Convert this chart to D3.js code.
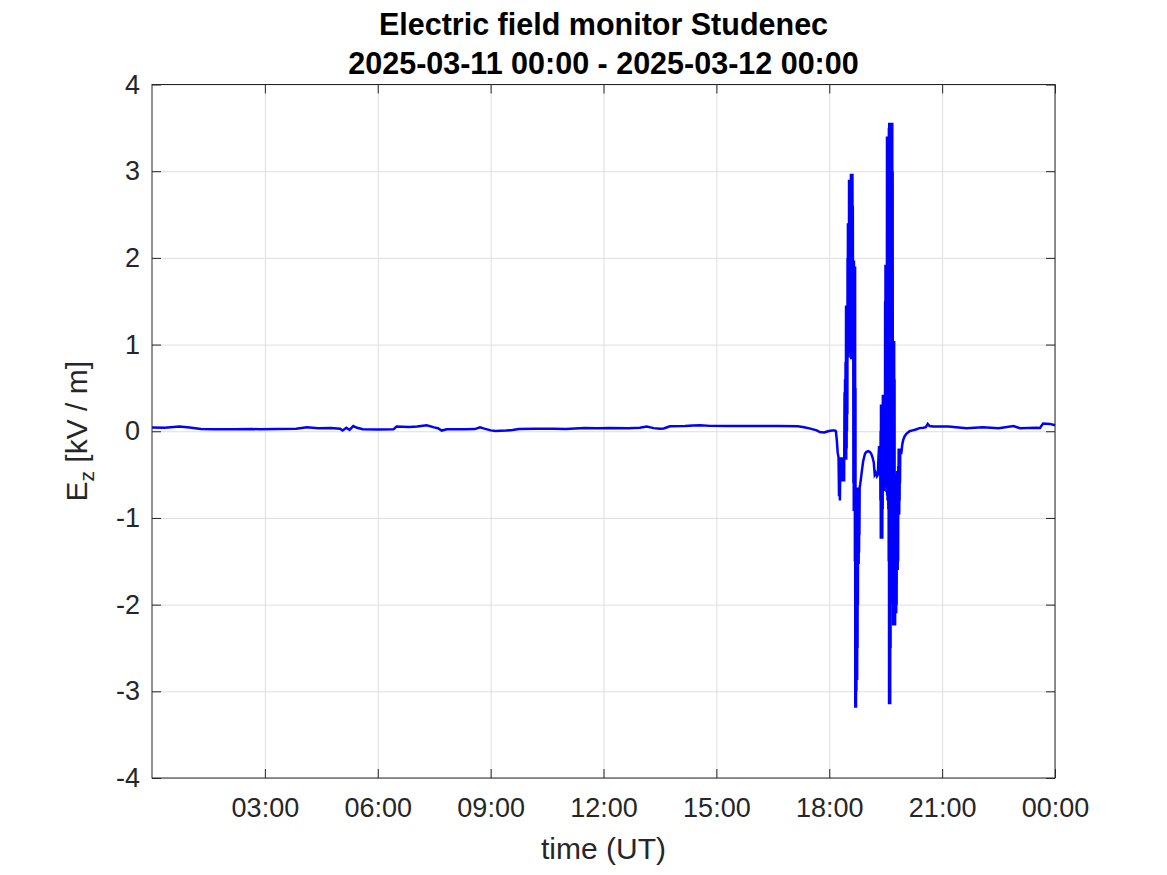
<!DOCTYPE html>
<html>
<head>
<meta charset="utf-8">
<script src="https://cdn.jsdelivr.net/npm/d3@7"></script>
<style>
  html, body { margin: 0; padding: 0; background: #ffffff; }
  svg { display: block; font-family: "Liberation Sans", Arial, Helvetica, sans-serif; }
</style>
</head>
<body>
<svg id="chart" width="1167" height="875"></svg>
<script>
// ---- data (minutes since 2025-03-11 00:00 UT, Ez in kV/m) ----
// quiet part before the storm
const quietMinutes = [
  0, 20, 44, 60, 78, 100, 130, 160, 172, 200, 230, 247, 265, 285, 300, 304, 310, 315, 321, 327,
  336, 360, 385, 390, 410, 423, 438, 450, 456, 462, 470, 500, 515, 523, 530, 540, 548, 555, 565, 575,
  585, 610, 640, 660, 690, 710, 730, 760, 778, 789, 800, 810, 816, 826, 850, 863, 874, 890, 920, 960,
  1000, 1030, 1040, 1050, 1060, 1065, 1072, 1078, 1084, 1089
];
const quietEz = [
  0.042, 0.040, 0.054, 0.042, 0.025, 0.023, 0.022, 0.025, 0.023, 0.027, 0.028, 0.046, 0.036, 0.038, 0.030, 0.008, 0.040, 0.015, 0.060, 0.040,
  0.023, 0.020, 0.022, 0.054, 0.050, 0.055, 0.070, 0.045, 0.035, 0.008, 0.023, 0.022, 0.025, 0.046, 0.030, 0.010, 0.002, 0.005, 0.008, 0.015,
  0.027, 0.028, 0.030, 0.027, 0.038, 0.036, 0.038, 0.036, 0.040, 0.054, 0.036, 0.030, 0.032, 0.058, 0.060, 0.065, 0.070, 0.062, 0.060, 0.060,
  0.060, 0.058, 0.045, 0.030, 0.010, -0.010, -0.015, 0.000, 0.008, 0.008
];
// first thunderstorm burst (~18:10 - 18:50)
const burst1Minutes = [
  1090.6, 1092, 1093.5, 1094.8, 1095.6, 1096.3, 1097, 1097.6, 1098.2, 1098.8,
  1099.5, 1100.2, 1100.9, 1101.6, 1102.3, 1103, 1103.7,
  1104.4, 1104.8, 1105.2, 1105.6, 1106.0, 1106.4, 1106.8, 1107.1, 1107.4, 1107.7,
  1108.0, 1108.3, 1108.6, 1108.9, 1109.2, 1109.5, 1109.8, 1110.1, 1110.4, 1110.7,
  1111.0, 1111.3, 1111.6, 1111.9, 1112.2, 1112.5, 1112.8, 1113.1, 1113.4, 1113.7,
  1114.0, 1114.3, 1114.6, 1114.9, 1115.2, 1115.5, 1115.8, 1116.1, 1116.4, 1116.7,
  1117.0, 1117.3, 1117.6, 1117.9, 1118.2, 1118.5, 1118.8, 1119.1, 1119.4, 1119.7,
  1120.0, 1120.3, 1120.6, 1120.9, 1121.2, 1121.5, 1121.8, 1122.1, 1122.4, 1122.7,
  1123.0, 1123.3, 1123.6, 1123.9, 1124.2, 1124.5, 1124.8, 1125.1, 1125.4, 1125.7,
  1126.0, 1126.3, 1126.6, 1126.9, 1127.2, 1127.5, 1127.8, 1128.1, 1128.5, 1129.2
];
const burst1Ez = [
  0.000, -0.10, -0.25, -0.30, -0.75, -0.35, -0.80, -0.40, -0.58, -0.30,
  -0.55, -0.32, -0.58, -0.30, -0.56, -0.32, -0.58,
  0.45, -0.20, 0.60, -0.25, 0.80, -0.30, 1.45, -0.33, 1.30, -0.20,
  1.45, 0.00, 1.40, 0.20, 2.00, 0.85, 2.40, 0.90, 2.35, 0.85,
  2.40, 1.00, 2.90, 1.04, 2.85, 1.10, 2.90, 1.04, 2.80, 1.20,
  2.90, 0.90, 2.97, 0.83, 2.95, 1.00, 2.97, 0.85, 2.90, 0.83,
  2.97, 1.20, 2.60, 0.90, 1.97, -0.60, 1.90, -0.92, 1.97, -0.50,
  1.60, -0.92, 1.20, -1.50, 1.90, -3.19, 0.50, -3.19, -0.90, -3.19,
  -1.00, -3.00, -0.65, -2.87, -0.70, -2.87, -0.65, -2.50, -0.70, -2.00,
  -0.65, -1.53, -0.70, -1.53, -0.65, -1.40, -0.70, -1.20, -0.65, -0.62
];
// lull between the bursts
const lullMinutes = [1130.5, 1132, 1134, 1135.6, 1137, 1139, 1142, 1145, 1147, 1149, 1151, 1152.5, 1154, 1156, 1157.5, 1158.5, 1159.5, 1160.5];
const lullEz = [-0.55, -0.46, -0.35, -0.30, -0.26, -0.24, -0.23, -0.24, -0.26, -0.30, -0.36, -0.50, -0.48, -0.52, -0.50, -0.30, -0.17, -0.50];
// second thunderstorm burst (~19:20 - 19:55)
const burst2Minutes = [
  1161.3, 1161.6, 1161.9, 1162.2, 1162.5, 1162.8, 1163.1, 1163.4, 1163.7, 1164.0,
  1164.3, 1164.6, 1164.9, 1165.2, 1165.5, 1165.8, 1166.1, 1166.4, 1166.7, 1167.0,
  1167.3, 1167.6, 1167.9, 1168.2, 1168.5, 1168.8, 1169.1, 1169.4, 1169.7, 1170.0,
  1170.3, 1170.6, 1170.9, 1171.2, 1171.5, 1171.8, 1172.1, 1172.4, 1172.7, 1173.0,
  1173.3, 1173.6, 1173.9, 1174.2, 1174.5, 1174.8, 1175.1, 1175.4, 1175.7, 1176.0,
  1176.3, 1176.6, 1176.9, 1177.2, 1177.5, 1177.8, 1178.1, 1178.4, 1178.7, 1179.0,
  1179.3, 1179.6, 1179.9, 1180.2, 1180.5, 1180.8, 1181.1, 1181.4, 1181.7, 1182.0,
  1182.3, 1182.6, 1182.9, 1183.2, 1183.5, 1183.8, 1184.1, 1184.4, 1184.7, 1185.0,
  1185.3, 1185.6, 1185.9, 1186.2, 1186.5, 1186.8, 1187.1, 1187.4, 1187.7, 1188.0,
  1188.3, 1188.6, 1188.9, 1189.2, 1189.5, 1189.8, 1190.1, 1190.4, 1190.7, 1191.0,
  1191.3, 1191.6, 1191.9, 1192.2, 1192.5, 1192.8, 1193.2, 1194
];
const burst2Ez = [
  -0.20, -0.80, 0.00, -1.24, 0.31, -1.00, 0.20, -1.24, 0.31, -1.10,
  0.25, -1.24, 0.30, -0.90, 0.42, -0.69, 0.35, -0.60, 0.42, -0.69,
  0.40, -0.65, 0.42, -0.60, 0.40, -0.65, 1.50, -0.65, 1.92, -0.60,
  1.92, -0.65, 1.80, -0.70, 1.92, -0.70, 3.40, -0.74, 3.40, -0.80,
  3.40, -0.74, 3.40, -0.90, 3.40, -1.50, 3.50, -3.15, 3.56, -3.15,
  3.56, -3.15, 3.56, -3.15, 3.56, -2.50, 3.56, -2.00, 3.56, -1.50,
  3.56, -1.20, 3.56, -1.46, 3.56, -1.46, 3.00, -1.46, 1.04, -2.24,
  1.04, -2.00, 1.00, -2.24, 1.04, -2.24, 0.60, -2.20, -0.50, -2.24,
  -0.96, -2.10, -1.00, -2.10, -1.00, -2.10, -1.05, -2.00, -1.10, -1.60,
  -0.46, -1.60, -0.50, -1.60, -0.46, -1.50, -0.40, -0.96, -0.20, -0.96,
  -0.20, -0.96, -0.20, -0.80, -0.20, -0.60, -0.25, -0.25
];
// recovery and evening
const afterMinutes = [1195, 1196.5, 1198, 1200, 1203, 1208, 1213, 1218, 1224, 1230, 1234, 1237, 1240, 1246, 1270, 1299, 1325, 1350, 1374, 1384, 1410, 1416, 1421, 1432, 1440];
const afterEz = [-0.25, -0.15, -0.10, -0.06, -0.03, 0.000, 0.010, 0.020, 0.036, 0.040, 0.046, 0.085, 0.060, 0.054, 0.054, 0.035, 0.046, 0.035, 0.060, 0.035, 0.040, 0.038, 0.090, 0.085, 0.070];

const xTickValues = [180, 360, 540, 720, 900, 1080, 1260, 1440];
const xTickLabels = ["03:00", "06:00", "09:00", "12:00", "15:00", "18:00", "21:00", "00:00"];
const yTickValues = [-4, -3, -2, -1, 0, 1, 2, 3, 4];
const titleLines = ["Electric field monitor Studenec", "2025-03-11 00:00 - 2025-03-12 00:00"];
const xLabel = "time (UT)";

(function () {
  // ---- layout ----
  const pL = 152, pR = 1055, pT = 84.5, pB = 778;
  const axisColor = "#262626";
  const gridColor = "#dedede";
  const tickFont = 27, labelFont = 30;

  const svg = d3.select("#chart");
  const x = d3.scaleLinear().domain([0, 1440]).range([pL, pR]);
  const y = d3.scaleLinear().domain([-4, 4]).range([pB, pT]);

  // grid
  const gx = svg.append("g").attr("transform", `translate(0,${pB})`)
    .call(d3.axisBottom(x).tickValues(xTickValues).tickSize(-(pB - pT)).tickFormat(""));
  const gy = svg.append("g").attr("transform", `translate(${pL},0)`)
    .call(d3.axisLeft(y).tickValues(yTickValues).tickSize(-(pR - pL)).tickFormat(""));
  [gx, gy].forEach(g => {
    g.select(".domain").remove();
    g.selectAll("line").attr("stroke", gridColor).attr("stroke-width", 1);
  });

  // data line
  const allM = [].concat(quietMinutes, burst1Minutes, lullMinutes, burst2Minutes, afterMinutes);
  const allE = [].concat(quietEz, burst1Ez, lullEz, burst2Ez, afterEz);
  const pts = allM.map((m, i) => [m, allE[i]]);
  svg.append("path")
    .datum(pts)
    .attr("fill", "none")
    .attr("stroke", "#0000ff")
    .attr("stroke-width", 2.5)
    .attr("stroke-linejoin", "miter")
    .attr("d", d3.line().x(d => x(d[0])).y(d => y(d[1])));

  // axes with inward ticks
  const fmtX = d => xTickLabels[xTickValues.indexOf(d)];
  const axB = svg.append("g").attr("transform", `translate(0,${pB})`)
    .call(d3.axisBottom(x).tickValues(xTickValues).tickSizeInner(-9).tickSizeOuter(0).tickPadding(20).tickFormat(fmtX));
  const axT = svg.append("g").attr("transform", `translate(0,${pT})`)
    .call(d3.axisTop(x).tickValues(xTickValues).tickSizeInner(-9).tickSizeOuter(0).tickFormat(""));
  const axL = svg.append("g").attr("transform", `translate(${pL},0)`)
    .call(d3.axisLeft(y).tickValues(yTickValues).tickSizeInner(-9).tickSizeOuter(0).tickPadding(12).tickFormat(d3.format("d")));
  const axR = svg.append("g").attr("transform", `translate(${pR},0)`)
    .call(d3.axisRight(y).tickValues(yTickValues).tickSizeInner(-9).tickSizeOuter(0).tickFormat(""));
  [axB, axT, axL, axR].forEach(g => {
    g.select(".domain").remove();
    g.selectAll("line").attr("stroke", axisColor).attr("stroke-width", 1);
    g.selectAll("text").attr("fill", axisColor).attr("font-size", tickFont)
      .attr("font-family", "'Liberation Sans', Arial, sans-serif");
  });
  axL.selectAll("text").text(d => d < 0 ? "-" + Math.abs(d) : String(d));

  // box
  svg.append("rect")
    .attr("x", pL).attr("y", pT)
    .attr("width", pR - pL).attr("height", pB - pT)
    .attr("fill", "none").attr("stroke", axisColor).attr("stroke-width", 1);

  // title
  svg.append("text").attr("x", (pL + pR) / 2).attr("y", 34.5)
    .attr("text-anchor", "middle").attr("font-size", 30.5).attr("font-weight", "bold")
    .attr("fill", "#000").text(titleLines[0]);
  svg.append("text").attr("x", (pL + pR) / 2).attr("y", 74)
    .attr("text-anchor", "middle").attr("font-size", 30.5).attr("font-weight", "bold")
    .attr("fill", "#000").text(titleLines[1]);

  // x label
  svg.append("text").attr("x", (pL + pR) / 2).attr("y", 859)
    .attr("text-anchor", "middle").attr("font-size", labelFont)
    .attr("fill", axisColor).text(xLabel);

  // y label: E_z [kV / m]
  const yl = svg.append("text")
    .attr("transform", `translate(87,${(pT + pB) / 2}) rotate(-90)`)
    .attr("text-anchor", "middle").attr("font-size", labelFont).attr("fill", axisColor);
  yl.append("tspan").text("E");
  yl.append("tspan").attr("font-size", 21).attr("dy", 7).text("z");
  yl.append("tspan").attr("dy", -7).text(" [kV / m]");
})();
</script>
</body>
</html>
